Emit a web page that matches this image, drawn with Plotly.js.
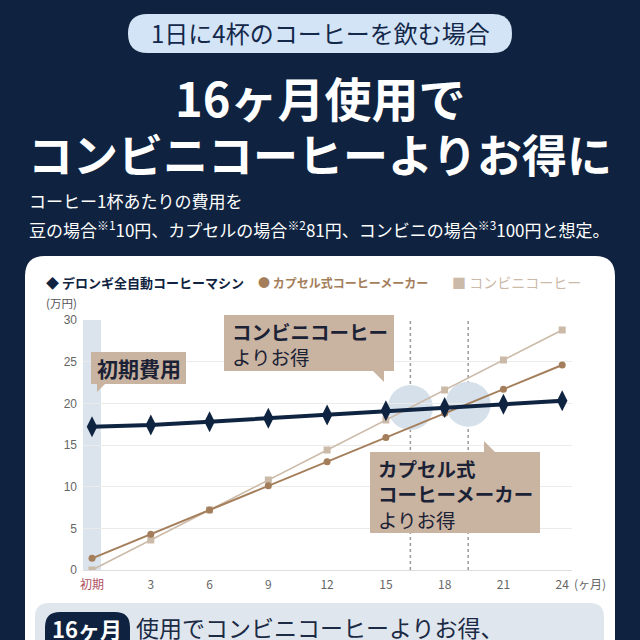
<!DOCTYPE html>
<html><head><meta charset="utf-8">
<script src="https://cdn.plot.ly/plotly-3.0.1.min.js"></script>
<style>html,body{margin:0;padding:0;background:#0f2340;}#chart{width:640px;height:640px;}</style>
</head><body><div id="chart"></div>
<script>
// ---- data ----
const months = [0, 3, 6, 9, 12, 15, 18, 21, 24];
const tickLabels = ['初期', '3', '6', '9', '12', '15', '18', '21', '24'];
const delonghi = [17.2, 17.4, 17.8, 18.2, 18.6, 19.1, 19.5, 19.9, 20.3];
const capsule = [1.4, 4.3, 7.2, 10.1, 13.0, 15.9, 18.8, 21.7, 24.6];
const konbini = [0, 3.6, 7.2, 10.8, 14.4, 18.0, 21.6, 25.2, 28.8];
const seriesNames = ['デロンギ全自動コーヒーマシン', 'カプセル式コーヒーメーカー', 'コンビニコーヒー'];
const breakEvenMonths = [16.25, 19.2];
const breakEvenValues = [19.5, 19.9];
const yTicks = [0, 5, 10, 15, 20, 25, 30];

// ---- geometry helpers ----
const W = 640, H = 640, L = 83, R = 68, T = 320, B = 70;
const PW = W - L - R, PH = H - T - B;
const fx = px => (px - L) / PW;
const fy = py => (H - B - py) / PH;
const P = (x, y) => fx(x).toFixed(5) + ',' + fy(y).toFixed(5);
function roundRect(x0, y0, x1, y1, r) {
  return 'M' + P(x0 + r, y0) + ' L' + P(x1 - r, y0) + ' Q' + P(x1, y0) + ' ' + P(x1, y0 + r) +
    ' L' + P(x1, y1 - r) + ' Q' + P(x1, y1) + ' ' + P(x1 - r, y1) +
    ' L' + P(x0 + r, y1) + ' Q' + P(x0, y1) + ' ' + P(x0, y1 - r) +
    ' L' + P(x0, y0 + r) + ' Q' + P(x0, y0) + ' ' + P(x0 + r, y0) + ' Z';
}
const tri = (a, b, c) => 'M' + P(a[0], a[1]) + ' L' + P(b[0], b[1]) + ' L' + P(c[0], c[1]) + ' Z';

const TAN = '#c9b3a1', BROWN = '#a47e5a', LIGHT = '#cbbaa8';
const FONT = 'Noto Sans CJK JP';

const traces = [
  { x: months, y: konbini, mode: 'lines+markers', name: seriesNames[2],
    line: { color: LIGHT, width: 1.6 }, marker: { symbol: 'square', size: 7, color: LIGHT } },
  { x: months, y: capsule, mode: 'lines+markers', name: seriesNames[1],
    line: { color: BROWN, width: 2 }, marker: { symbol: 'circle', size: 7, color: BROWN } },
  { x: months, y: delonghi, mode: 'lines+markers', name: seriesNames[0],
    line: { color: '#0f2441', width: 4 }, marker: { symbol: 'diamond-tall', size: 15, color: '#0f2441' } }
];

const shapes = [
  { type: 'path', xref: 'paper', yref: 'paper', layer: 'below', path: roundRect(25, 256, 615, 760, 20),
    fillcolor: '#ffffff', line: { width: 0 } },
  { type: 'path', xref: 'paper', yref: 'paper', layer: 'below', path: roundRect(128, 14, 512, 53, 19.5),
    fillcolor: '#d3e4f6', line: { width: 0 } },
  { type: 'rect', xref: 'x', yref: 'paper', layer: 'below', x0: -0.46, x1: 0.46, y0: 0, y1: 1,
    fillcolor: '#dbe4ed', line: { width: 0 } }
];
breakEvenMonths.forEach((m, i) => {
  shapes.push({ type: 'circle', xref: 'x', yref: 'y', layer: 'below',
    x0: m - 1.15, x1: m + 1.15, y0: breakEvenValues[i] - 2.7, y1: breakEvenValues[i] + 2.7,
    fillcolor: '#d5e0ea', line: { width: 0 } });
});
breakEvenMonths.forEach(m => {
  shapes.push({ type: 'line', xref: 'x', yref: 'paper', layer: 'below', x0: m, x1: m, y0: 0, y1: 1,
    line: { color: '#9a9a9a', width: 1.5, dash: 'dot' } });
});
// callout boxes
shapes.push(
  { type: 'rect', xref: 'paper', yref: 'paper', x0: fx(91), x1: fx(186), y0: fy(384), y1: fy(352), fillcolor: TAN, line: { width: 0 } },
  { type: 'path', xref: 'paper', yref: 'paper', path: tri([97, 383], [97, 392], [106, 383]), fillcolor: TAN, line: { width: 0 } },
  { type: 'rect', xref: 'paper', yref: 'paper', x0: fx(224), x1: fx(394), y0: fy(371), y1: fy(315), fillcolor: TAN, line: { width: 0 } },
  { type: 'path', xref: 'paper', yref: 'paper', path: tri([372, 370], [384, 370], [384, 382]), fillcolor: TAN, line: { width: 0 } },
  { type: 'rect', xref: 'paper', yref: 'paper', x0: fx(370), x1: fx(540), y0: fy(533), y1: fy(452), fillcolor: TAN, line: { width: 0 } },
  { type: 'path', xref: 'paper', yref: 'paper', path: tri([484, 441], [484, 453], [496, 453]), fillcolor: TAN, line: { width: 0 } },
  // bottom summary box
  { type: 'path', xref: 'paper', yref: 'paper', path: roundRect(35, 603, 604, 700, 14), fillcolor: '#dfe6ee', line: { width: 0 } },
  { type: 'path', xref: 'paper', yref: 'paper', path: roundRect(45, 612, 130, 660, 15), fillcolor: '#0f2340', line: { width: 0 } }
);

function ann(text, px, py, size, color, xanchor, extra) {
  return Object.assign({ text: text, xref: 'paper', yref: 'paper', x: fx(px), y: fy(py),
    xanchor: xanchor || 'left', yanchor: 'middle', showarrow: false, align: 'left',
    font: { family: FONT, size: size, color: color } }, extra || {});
}

const annotations = [
  ann('1日に4杯のコーヒーを飲む場合', 320, 33, 24, '#14284a', 'center'),
  ann('<b>16ヶ月使用で</b>', 320, 96, 47, '#ffffff', 'center'),
  ann('<b>コンビニコーヒーよりお得に</b>', 320, 153, 45, '#ffffff', 'center'),
  ann('コーヒー1杯あたりの費用を', 27, 200, 17, '#ffffff'),
  ann('豆の場合<sup>※1</sup>10円、カプセルの場合<sup>※2</sup>81円、コンビニの場合<sup>※3</sup>100円と想定。', 27, 229, 17, '#ffffff'),
  ann('<b>◆ ' + seriesNames[0] + '</b>', 44, 282, 13, '#0f2340'),
  ann('<b>● ' + seriesNames[1] + '</b>', 256, 282, 12, BROWN),
  ann('■ ' + seriesNames[2], 450, 282, 14, LIGHT),
  ann('(万円)', 44, 303, 11.5, '#555555'),
  ann('(ヶ月)', 572, 583, 12, '#666666'),
  ann('<b>初期費用</b>', 95, 368, 21, '#1b2235'),
  ann('<b>コンビニコーヒー</b><br>よりお得', 230, 344, 19.5, '#1b2235'),
  ann('<b>カプセル式<br>コーヒーメーカー</b><br>よりお得', 376, 494, 19.5, '#1b2235'),
  ann('<b>16ヶ月</b>', 87, 628, 22, '#ffffff', 'center'),
  ann('使用でコンビニコーヒーよりお得、', 134, 627, 23, '#1b2a45')
];

const ticktext = tickLabels.map((t, i) => i === 0 ? '<span style="color:#b0505f">' + t + '</span>' : t);

const layout = {
  width: W, height: H,
  margin: { l: L, r: R, t: T, b: B, pad: 0 },
  paper_bgcolor: '#0f2340', plot_bgcolor: 'rgba(0,0,0,0)',
  showlegend: false,
  font: { family: FONT },
  xaxis: { range: [-0.46, 24.5], tickvals: months, ticktext: ticktext, showgrid: false, zeroline: false,
    showline: true, linecolor: '#dddddd', linewidth: 1, ticks: '', ticklabelstandoff: 4,
    tickfont: { size: 12, color: '#666666', family: FONT }, fixedrange: true },
  yaxis: { range: [0, 30], tickvals: yTicks, showgrid: true, gridcolor: '#ebebeb', gridwidth: 1, zeroline: false,
    ticks: '', ticklabelstandoff: 5, tickfont: { size: 12, color: '#666666', family: 'Liberation Sans' }, fixedrange: true },
  shapes: shapes,
  annotations: annotations
};

Plotly.newPlot('chart', traces, layout, { staticPlot: true, displayModeBar: false });
</script>
</body></html>
